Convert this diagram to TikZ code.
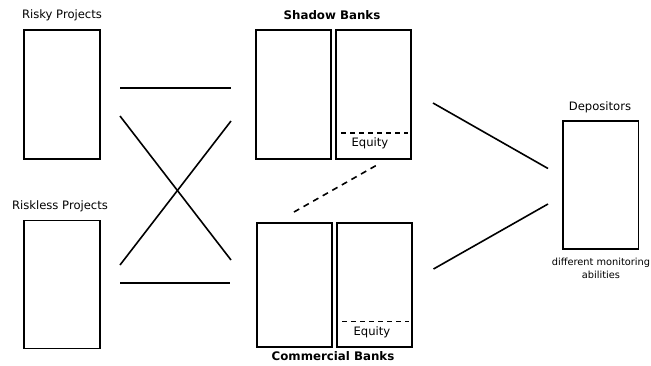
\documentclass[tikz,border=0pt]{standalone}
\usepackage{fontspec}
\setmainfont{DejaVu Sans}
\begin{document}
\begin{tikzpicture}[x=1pt,y=-1pt,
  box/.style={draw,line width=1.8pt,inner sep=0pt,anchor=north west},
  lnk/.style={line width=1.6pt},
  eqline/.style={line width=1.8pt,dash pattern=on 5pt off 4pt},
  lbl/.style={font=\fontsize{11.6}{13}\selectfont,inner sep=0pt},
  blbl/.style={font=\fontsize{11.8}{13}\selectfont\bfseries,inner sep=0pt},
  small/.style={font=\fontsize{9.8}{12.5}\selectfont,inner sep=0pt,align=center}]
\useasboundingbox (0,0) rectangle (651,365);
% boxes
\node[box,minimum width=76pt,minimum height=129pt] (risky) at (23,29) {};
\node[box,minimum width=76pt,minimum height=128pt] (riskless) at (23,219.5) {};
\node[box,minimum width=75pt,minimum height=129pt] (sbA) at (255,29) {};
\node[box,minimum width=75pt,minimum height=129pt] (sbB) at (335,29) {};
\node[box,minimum width=75pt,minimum height=124pt] (cbA) at (256,222) {};
\node[box,minimum width=75pt,minimum height=124pt] (cbB) at (336,222) {};
\node[box,minimum width=75.5pt,minimum height=128pt] (dep) at (562,120) {};
% labels
\node[lbl] (lrisky) at (62,15) {Risky Projects};
\node[lbl] (lriskless) at (60,206) {Riskless Projects};
\node[blbl] (lsb) at (332,15) {Shadow Banks};
\node[blbl] (lcb) at (333,356) {Commercial Banks};
\node[lbl] (ldep) at (600,107) {Depositors};
\node[small] (ldep2) at (601,268.5) {different monitoring\\abilities};
\node[lbl] (eq1) at (370,143.5) {Equity};
\node[lbl] (eq2) at (372,332) {Equity};
% equity lines
\coordinate (e1a) at (341,133); \coordinate (e1b) at (408,133);
\coordinate (e2a) at (342,321.5); \coordinate (e2b) at (409,321.5);
\draw[eqline] (e1a) -- (e1b);
\draw[eqline] (e2a) -- (e2b);
% links left
\coordinate (a1) at (120,88); \coordinate (a2) at (231,88);
\coordinate (b1) at (120,116); \coordinate (b2) at (231,260);
\coordinate (c1) at (231,121); \coordinate (c2) at (120,265);
\coordinate (d1) at (120,283); \coordinate (d2) at (230,283);
\draw[lnk] (a1) -- (a2);
\draw[lnk] (b1) -- (b2);
\draw[lnk] (c1) -- (c2);
\draw[lnk] (d1) -- (d2);
% dashed between banks
\coordinate (s1) at (294,212); \coordinate (s2) at (377,165);
\draw[lnk,dash pattern=on 6pt off 5pt] (s1) -- (s2);
% links right
\coordinate (r1) at (433,103); \coordinate (r2) at (548,168.5);
\coordinate (q1) at (433.5,269); \coordinate (q2) at (548,204);
\draw[lnk] (r1) -- (r2);
\draw[lnk] (q1) -- (q2);
\end{tikzpicture}
\end{document}
